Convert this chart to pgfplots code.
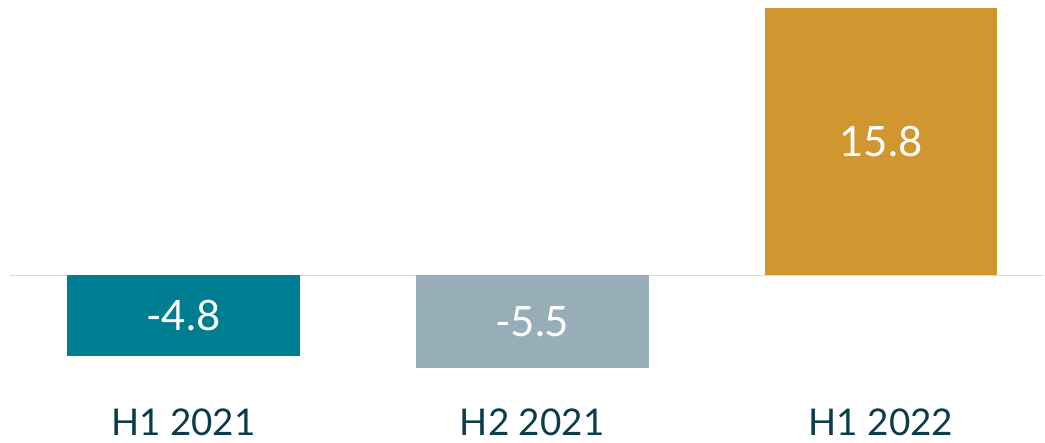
\documentclass[border=0pt]{standalone}
\usepackage{pgfplots}
\pgfplotsset{compat=1.18}
\usepackage{fontspec}
\setmainfont{Lato}
\definecolor{cteal}{HTML}{007E91}
\definecolor{cgray}{HTML}{97ADB8}
\definecolor{cgold}{HTML}{D09630}
\definecolor{clabel}{HTML}{0B3C49}
\definecolor{czero}{HTML}{D9D9D9}
\begin{document}
\begin{tikzpicture}
\path (0,0) rectangle (1045bp,443bp);
\begin{axis}[
  at={(10bp,5bp)}, anchor=south west,
  scale only axis, width=1035bp, height=429.5bp,
  xmin=-0.497, xmax=2.468,
  ymin=-9.62, ymax=15.8,
  axis lines=none,
  ybar, bar width=233bp, bar shift=0pt,
  xtick=data, ytick=\empty,
  clip=false,
  point meta=explicit symbolic,
  nodes near coords,
  visualization depends on=y \as \rawy,
  every node near coord/.append style={anchor=center, text=white,
     font=\fontsize{42}{46}\selectfont,
     shift={(axis direction cs:0,-\rawy/2)}},
]
\draw[czero, line width=1.5bp] (axis cs:-0.497,0) -- (axis cs:2.468,0);
\addplot[fill=cteal, draw=none] coordinates {(0,-4.8) [-4.8]};
\addplot[fill=cgray, draw=none] coordinates {(1,-5.5) [-5.5]};
\addplot[fill=cgold, draw=none] coordinates {(2,15.8) [15.8]};
\node[anchor=base, text=clabel, font=\fontsize{37}{40}\selectfont, inner sep=0] at (axis cs:0,-9.5) {H1 2021};
\node[anchor=base, text=clabel, font=\fontsize{37}{40}\selectfont, inner sep=0] at (axis cs:1,-9.5) {H2 2021};
\node[anchor=base, text=clabel, font=\fontsize{37}{40}\selectfont, inner sep=0] at (axis cs:2,-9.5) {H1 2022};
\end{axis}
\end{tikzpicture}
\end{document}
